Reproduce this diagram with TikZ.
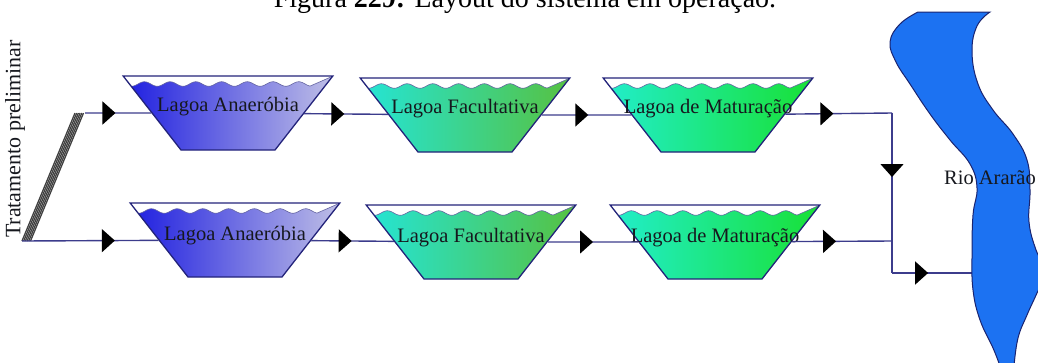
\documentclass[tikz,border=0pt]{standalone}
\usepackage{fontspec}
\setmainfont{Liberation Serif}
\usetikzlibrary{shapes.geometric, arrows.meta, decorations.markings, backgrounds}

\definecolor{LinhaFluxo}{HTML}{3C3C8C}
\definecolor{BordaLagoa}{HTML}{23237A}
\definecolor{AnaEsq}{HTML}{1818E0}
\definecolor{AnaDir}{HTML}{C4C4E6}
\definecolor{FacEsq}{HTML}{22E6DC}
\definecolor{FacDir}{HTML}{58C03C}
\definecolor{MatEsq}{HTML}{22EED2}
\definecolor{MatDir}{HTML}{18E030}
\definecolor{RioAzul}{HTML}{1C72F2}
\definecolor{RioBorda}{HTML}{1A2470}
\definecolor{Texto}{HTML}{16181E}

\tikzset{
    every node/.style={font=\fontsize{20}{23}\selectfont, text=Texto},
    % Pond: inverted trapezium, 210 wide on top, 94 at the bottom
    lagoa/.style={
        trapezium,
        shape border rotate=180,
        trapezium angle=52,
        text width=94pt,
        text height=74pt,
        text depth=0pt,
        inner sep=0pt,
        draw=BordaLagoa,
        line width=1.3pt
    },
    % Wavy water line inside a pond
    onda/.style={draw=BordaLagoa!70, line width=0.6pt},
    % Pond label
    rotulo/.style={inner sep=0pt, font=\fontsize{20.5}{23}\selectfont},
    % Flow line with a black triangle along it
    fluxo/.style={
        draw=LinhaFluxo,
        line width=1.4pt,
        postaction={decorate},
        decoration={markings,
            mark=at position #1 with {\arrow{Triangle[length=13pt,width=23pt,color=black]}}}
    },
    fluxo/.default=0.5,
    % Plain flow line
    linha/.style={draw=LinhaFluxo, line width=1.4pt},
    % Screen bars of the preliminary treatment
    grade/.style={draw=black!75, line width=1.3pt},
    % River
    rio/.style={fill=RioAzul, draw=RioBorda, line width=1pt}
}

\begin{document}
\begin{tikzpicture}[x=1pt, y=-1pt]
    \useasboundingbox (0,0) rectangle (1038,362);
    \clip (0,0) rectangle (1038,362);

    \node[anchor=base, font=\fontsize{28}{30}\selectfont, text=black] (legenda) at (525,7)
        {Figura \textbf{229:} Layout do sistema em operação.};

    % Preliminary treatment
    \node[rotate=90, font=\fontsize{22}{25}\selectfont] (pre) at (15,139) {Tratamento preliminar};
    \foreach \d in {0,1.7,...,10}
        \draw[grade] (22+\d,241) -- (75+\d,113);
    \coordinate (grade-topo) at (85,113);
    \coordinate (grade-base) at (22,241);

    % Ponds, upper line
    \node[lagoa] (an1) at (228,113) {};
    \node[lagoa] (fa1) at (465,115) {};
    \node[lagoa] (ma1) at (708,115) {};

    % Ponds, lower line
    \node[lagoa] (an2) at (235,240) {};
    \node[lagoa] (fa2) at (471,242) {};
    \node[lagoa] (ma2) at (715,242) {};

    % Water with a wavy surface, behind the pond borders
    \begin{scope}[on background layer]
        \foreach \n/\esq/\dir in {an1/AnaEsq/AnaDir, fa1/FacEsq/FacDir, ma1/MatEsq/MatDir,
                                  an2/AnaEsq/AnaDir, fa2/FacEsq/FacDir, ma2/MatEsq/MatDir} {
            \begin{scope}[shift={(\n.center)}]
                \clip (-105,-37) -- (105,-37) -- (47,37) -- (-47,37) -- cycle;
                \shade[left color=\esq, right color=\dir]
                    plot[domain=-110:82, samples=90, smooth] (\x,{-29+2.3*sin(14*\x)})
                    -- (112,-40) -- (112,40) -- (-112,40) -- cycle;
                \draw[onda]
                    plot[domain=-110:82, samples=90, smooth] (\x,{-29+2.3*sin(14*\x)})
                    -- (112,-40);
            \end{scope}
        }
    \end{scope}

    \node[rotulo] (an1-txt) at ([yshift=6pt]an1.center) {Lagoa Anaeróbia};
    \node[rotulo] (fa1-txt) at ([yshift=6pt]fa1.center) {Lagoa Facultativa};
    \node[rotulo] (ma1-txt) at ([yshift=6pt]ma1.center) {Lagoa de Maturação};
    \node[rotulo] (an2-txt) at ([yshift=4pt]an2.center) {Lagoa Anaeróbia};
    \node[rotulo] (fa2-txt) at ([yshift=4pt]fa2.center) {Lagoa Facultativa};
    \node[rotulo] (ma2-txt) at ([yshift=4pt]ma2.center) {Lagoa de Maturação};

    % Outfall
    \coordinate (j1) at (892,113);
    \coordinate (j2) at (892,241);
    \coordinate (j3) at (892,273);
    \coordinate (rio-margem) at (978,273);

    \draw[fluxo=0.46] (grade-topo) -- (an1);
    \draw[fluxo=0.48] (an1) -- (fa1);
    \draw[fluxo=0.52] (fa1) -- (ma1);
    \draw[fluxo=0.45] (ma1) -- (j1);

    \draw[fluxo=0.68] (grade-base) -- (an2);
    \draw[fluxo=0.49] (an2) -- (fa2);
    \draw[fluxo=0.5] (fa2) -- (ma2);
    \draw[fluxo=0.44] (ma2) -- (j2);

    \draw[fluxo=0.5] (j1) -- (j2);
    \draw[linha] (j2) -- (j3);
    \draw[fluxo=0.42] (j3) -- (rio-margem);

    % River
    \draw[rio] (918,12) -- (990,12)
        -- plot[smooth, tension=0.7] coordinates {(990,12) (977,26) (972,52) (978,84)
            (993,110) (1013,134) (1027,160) (1030,190) (1029,222) (1036,250)
            (1046,272) (1037,293) (1027,315) (1018,338) (1014,366)}
        -- (1000,366)
        -- plot[smooth, tension=0.7] coordinates {(1000,366) (993,348) (980,320)
            (973,290) (972,255) (973,215) (977,188) (970,164) (950,140) (930,114)
            (910,84) (896,62) (890,42) (900,24) (918,12)}
        -- cycle;
    \node[rotulo] (rio) at (990,178) {Rio Ararão};
\end{tikzpicture}
\end{document}
